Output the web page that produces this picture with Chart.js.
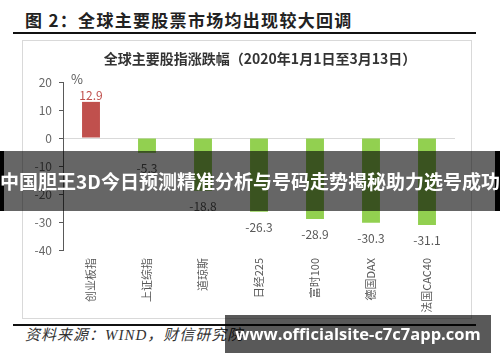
<!DOCTYPE html>
<html>
<head>
<meta charset="utf-8">
<script src="https://cdn.jsdelivr.net/npm/chart.js@4.4.0/dist/chart.umd.min.js"></script>
<style>
  html, body { margin: 0; padding: 0; background: #fff; }
  body { width: 500px; height: 362px; position: relative; overflow: hidden;
         font-family: "Noto Sans CJK SC", "Noto Sans", sans-serif; }
  .abs { position: absolute; }
  #figTitle { left: 25px; top: 8px; font-size: 17px; font-weight: 700; color: #222;
              letter-spacing: 1.3px; white-space: nowrap; line-height: 24px; }
  .rule { left: 13px; width: 463px; height: 2px; background: #111; }
  #box { left: 22px; top: 40px; width: 450px; height: 279px; border: 1px solid #d9d9d9; box-sizing: border-box; }
  #wrap { left: 22px; top: 40px; width: 450px; height: 279px; }
  #chartTitle { left: 35px; width: 450px; top: 48px; text-align: center; font-size: 14px;
                font-weight: 700; color: #333; line-height: 20px; white-space: nowrap; }
  #pct { left: 71px; top: 69px; font-size: 13px; color: #595959; }
  #source { left: 25px; top: 325px; font-size: 15px; font-style: italic; color: #333;
            font-family: "Liberation Serif", "DejaVu Serif", "Noto Sans CJK SC", serif;
            letter-spacing: 1px; white-space: nowrap; line-height: 20px; }
  #banner { left: 0; top: 151px; width: 500px; height: 60px; background: rgba(0,0,0,0.6); z-index: 5; }
  .edge { top: 151px; height: 60px; background: #000; z-index: 5; }
  #bannerText { left: 0; width: 500px; top: 151px; height: 60px; line-height: 60px; text-align: center;
                color: #fff; font-size: 19px; font-weight: 700; white-space: nowrap; z-index: 6; }
  #mark { left: 225px; top: 315px; width: 266px; height: 38px; background: rgba(0,0,0,0.65); z-index: 5;
          color: #fff; font-size: 16.5px; font-weight: 700; line-height: 38px; text-align: center; white-space: nowrap;
          font-family: "Open Sans", "Noto Sans", sans-serif; }
</style>
</head>
<body>
<div id="figTitle" class="abs">图 2：全球主要股票市场均出现较大回调</div>
<div class="abs rule" style="top:32px"></div>
<div id="box" class="abs"></div>
<div id="wrap" class="abs"><canvas id="chart"></canvas></div>
<div id="chartTitle" class="abs">全球主要股指涨跌幅（2020年1月1日至3月13日）</div>
<div id="pct" class="abs">%</div>
<div class="abs rule" style="top:324px"></div>
<div id="source" class="abs">资料来源：WIND，财信研究院</div>
<div id="banner" class="abs"></div>
<div class="abs edge" style="left:0;width:4px"></div>
<div class="abs edge" style="left:495px;width:5px"></div>
<div id="bannerText" class="abs">中国胆王3D今日预测精准分析与号码走势揭秘助力选号成功</div>
<div id="mark" class="abs">www.officialsite-c7c7app.com</div>

<script>
const categories = ['创业板指', '上证综指', '道琼斯', '日经225', '富时100', '德国DAX', '法国CAC40'];
const changes = [12.9, -5.3, -18.8, -26.3, -28.9, -30.3, -31.1];
const yTicks = [20, 10, 0, -10, -20, -30, -40];

const upColor = '#c0504d';
const downColor = '#92d050';
const fontFamily = '"Noto Sans CJK SC", "Noto Sans", sans-serif';

// value labels at the end of each bar
const barLabels = {
  id: 'barLabels',
  afterDatasetsDraw(chart) {
    const ctx = chart.ctx;
    const meta = chart.getDatasetMeta(0);
    ctx.save();
    ctx.font = '12px ' + fontFamily;
    ctx.textAlign = 'center';
    ctx.textBaseline = 'alphabetic';
    meta.data.forEach((bar, i) => {
      const v = changes[i];
      if (v >= 0) {
        ctx.fillStyle = upColor;
        ctx.fillText(v.toFixed(1), bar.x, bar.y - 2);
      } else {
        ctx.fillStyle = '#595959';
        ctx.fillText(v.toFixed(1), bar.x, bar.y + 20);
      }
    });
    ctx.restore();
  }
};

new Chart(document.getElementById('chart'), {
  type: 'bar',
  data: {
    labels: categories,
    datasets: [{
      data: changes,
      backgroundColor: changes.map(v => v >= 0 ? upColor : downColor),
      borderWidth: 0,
      categoryPercentage: 1,
      barPercentage: 0.32,
    }],
  },
  options: {
    responsive: true,
    maintainAspectRatio: false,
    animation: false,
    layout: { padding: { top: 42, right: 17, left: 0, bottom: 0 } },
    plugins: {
      legend: { display: false },
      tooltip: { enabled: false },
    },
    scales: {
      x: {
        grid: { display: false, drawTicks: false },
        border: { display: false },
        ticks: {
          maxRotation: 90,
          minRotation: 90,
          padding: 8,
          color: '#595959',
          font: { size: 11, family: fontFamily },
        },
        afterFit: s => { s.height = 69; },
      },
      y: {
        min: yTicks[yTicks.length - 1],
        max: yTicks[0],
        afterBuildTicks: s => { s.ticks = yTicks.map(v => ({ value: v })); },
        grid: {
          color: c => (c.tick && c.tick.value === 0) ? '#d9d9d9' : 'rgba(0,0,0,0)',
          tickColor: '#595959',
          tickLength: 4,
        },
        border: { display: true, color: '#595959' },
        ticks: {
          padding: 7,
          color: '#666666',
          font: { size: 12, family: fontFamily },
        },
        afterFit: s => { s.width = 41; },
      },
    },
  },
  plugins: [barLabels],
});
</script>
</body>
</html>
